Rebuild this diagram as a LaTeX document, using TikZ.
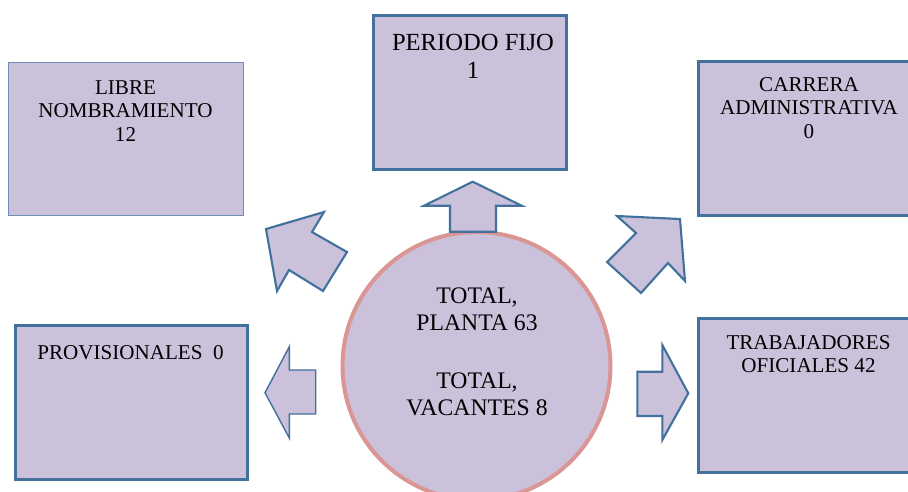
\documentclass[tikz,border=0pt]{standalone}
\usepackage{fontspec}
\setmainfont{Liberation Serif}
\usepackage{xcolor}
\usepackage{tikz}
\usetikzlibrary{positioning}
\definecolor{lila}{RGB}{204,193,218}
\definecolor{azulborde}{RGB}{65,113,156}
\definecolor{azulclaro}{RGB}{110,142,184}
\definecolor{rosaborde}{RGB}{217,150,148}
\tikzset{
  caja/.style={rectangle, draw=azulborde, line width=1.5pt, fill=lila, inner sep=0pt, anchor=north west},
  texto/.style={anchor=north, inner sep=0pt, align=center, font=\fontsize{12}{13.4}\selectfont},
  flecha/.style={draw=azulborde, line width=1.2pt, fill=lila, line join=miter},
}
\begin{document}
\begin{tikzpicture}[x=0.02cm,y=-0.02cm]
\useasboundingbox (0,0) rectangle (908,491);
    % Circulo central:
    \node[circle, draw=rosaborde, line width=2.3pt, fill=lila, minimum size=5.36cm, inner sep=0pt] (n0) at (476.5,366) {};
    \node[texto, font=\fontsize{13.5}{15.6}\selectfont] (n1) at (477,287.5) {TOTAL,\\PLANTA 63\\[17pt]TOTAL,\\VACANTES 8};
    % Cajas:
    \node[caja, draw=azulclaro, line width=0.8pt, minimum width=4.7cm, minimum height=3.06cm] (n2) at (8,62) {};
    \node[texto] (n3) at (125.5,80) {LIBRE\\NOMBRAMIENTO\\12};
    \node[caja, minimum width=3.86cm, minimum height=3.08cm] (n4) at (372,14) {};
    \node[texto, font=\fontsize{14}{15.9}\selectfont] (n5) at (473,34) {PERIODO FIJO\\1};
    \node[caja, minimum width=4.3cm, minimum height=3.08cm] (n6) at (697,60) {};
    \node[texto] (n7) at (809,77) {CARRERA\\ADMINISTRATIVA\\0};
    \node[caja, minimum width=4.3cm, minimum height=3.08cm] (n8) at (697,317) {};
    \node[texto] (n9) at (808.5,335) {TRABAJADORES\\OFICIALES 42};
    \node[caja, minimum width=4.65cm, minimum height=3.08cm] (n10) at (14,324) {};
    \node[texto, anchor=north west] (n11) at (37,345) {PROVISIONALES\ \ 0};
    % Flechas:
    \draw[flecha] (472.7,181.7) -- (521.7,205.7) -- (496,205.7) -- (496,231.7) -- (450,231.7) -- (450,205.7) -- (424,205.7) -- cycle;
    \draw[flecha] (266,229) -- (324,212) -- (312,232) -- (347,252) -- (323,291) -- (289,270) -- (277,291) -- cycle;
    \draw[flecha] (680,219) -- (685,281) -- (668,263) -- (641,293) -- (607,262) -- (636,233) -- (617,216) -- cycle;
    \draw[flecha, line width=0.8pt] (265,392.7) -- (289.3,346.7) -- (289.3,370) -- (315.7,370) -- (315.7,414) -- (289.3,414) -- (289.3,438) -- cycle;
    \draw[flecha] (688.3,393.3) -- (662.3,345) -- (662.3,371.7) -- (637.3,371.7) -- (637.3,416) -- (662.3,416) -- (662.3,440) -- cycle;
\end{tikzpicture}
\end{document}
